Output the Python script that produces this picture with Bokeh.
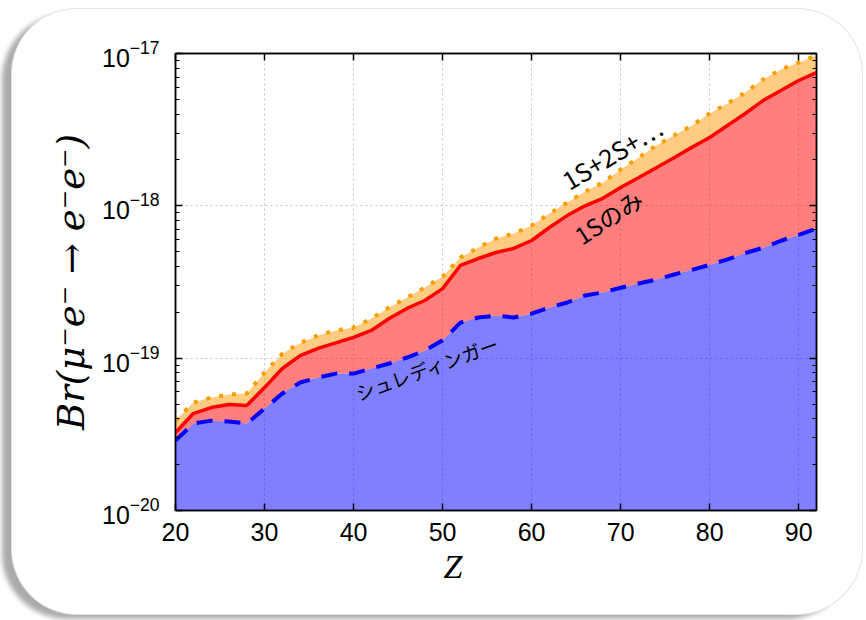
from bokeh.plotting import figure
from bokeh.models import LinearAxis, LogAxis, FixedTicker, Range1d, Title, ColumnDataSource
from bokeh.core.properties import value
from bokeh.embed import file_html
from bokeh.resources import INLINE

# ---- data ----
Z = [20, 22, 24, 26, 28, 30, 32, 34, 36, 38, 40, 42, 44, 46, 48, 50, 52, 54, 56, 58,
     60, 62, 64, 66, 68, 70, 72, 74, 76, 78, 80, 82, 84, 86, 88, 90, 92]

schrodinger = [2.88e-20, 3.72e-20, 3.89e-20, 3.84e-20, 3.72e-20, 4.67e-20, 5.86e-20, 6.92e-20,
               7.46e-20, 7.92e-20, 7.92e-20, 8.55e-20, 9.22e-20, 1.01e-19, 1.12e-19, 1.31e-19,
               1.71e-19, 1.85e-19, 1.90e-19, 1.85e-19, 1.96e-19, 2.15e-19, 2.32e-19, 2.58e-19,
               2.70e-19, 2.90e-19, 3.09e-19, 3.28e-19, 3.54e-19, 3.80e-19, 4.10e-19, 4.45e-19,
               4.90e-19, 5.30e-19, 5.90e-19, 6.45e-19, 7.10e-19]

only_1s = [3.25e-20, 4.33e-20, 4.74e-20, 4.96e-20, 4.89e-20, 6.41e-20, 8.55e-20, 1.04e-19,
           1.16e-19, 1.26e-19, 1.37e-19, 1.52e-19, 1.82e-19, 2.12e-19, 2.39e-19, 2.86e-19,
           4.06e-19, 4.51e-19, 4.94e-19, 5.25e-19, 5.92e-19, 7.21e-19, 8.63e-19, 1.00e-18,
           1.12e-18, 1.32e-18, 1.53e-18, 1.78e-18, 2.07e-18, 2.42e-18, 2.81e-18, 3.37e-18,
           4.04e-18, 4.91e-18, 5.71e-18, 6.65e-18, 7.50e-18]

all_states = [3.89e-20, 5.11e-20, 5.51e-20, 5.77e-20, 5.86e-20, 8.04e-20, 1.07e-19, 1.26e-19,
              1.41e-19, 1.52e-19, 1.59e-19, 1.82e-19, 2.15e-19, 2.50e-19, 2.91e-19, 3.43e-19,
              4.58e-19, 5.32e-19, 6.10e-19, 6.58e-19, 7.43e-19, 8.89e-19, 1.05e-18, 1.24e-18,
              1.42e-18, 1.73e-18, 2.07e-18, 2.49e-18, 2.90e-18, 3.37e-18, 4.04e-18, 4.70e-18,
              5.55e-18, 6.75e-18, 7.85e-18, 8.73e-18, 9.70e-18]

x_ticks = [20, 30, 40, 50, 60, 70, 80, 90]
y_ticks = [1e-20, 1e-19, 1e-18, 1e-17]
y_minor = [m * d for d in (1e-20, 1e-19, 1e-18) for m in (2, 3, 4, 5, 6, 7, 8, 9)]

curve_labels = ["1S+2S+\u22ef", "1S\u306e\u307f", "\u30b7\u30e5\u30ec\u30c7\u30a3\u30f3\u30ac\u30fc"]
label_z = [69.0, 68.6, 48.3]
label_br = [2.22e-18, 8.5e-19, 8.67e-20]
label_angle = [31, 33, 20]
label_size = ["25px", "24px", "19px"]

# ---- figure ----
p = figure(width=850, height=605,
           x_range=Range1d(20, 92), y_range=Range1d(1e-20, 1e-17),
           y_axis_type="log", output_backend="svg", toolbar_location=None,
           min_border_left=163, min_border_right=46, min_border_top=44, min_border_bottom=104)
p.border_fill_color = None
p.background_fill_color = "white"
p.outline_line_color = "black"
p.outline_line_width = 1.5
p.styles = {"background-color": "white", "border-radius": "65px",
            "margin-left": "12px", "margin-top": "9px",
            "box-shadow": "0 0 0 1px #e4e4e4, -10px 5px 5px rgba(0,0,0,0.33)"}

# fills
p.varea(x=Z, y1=1e-20, y2=schrodinger, fill_color="#0000ff", fill_alpha=0.5)
p.varea(x=Z, y1=schrodinger, y2=only_1s, fill_color="#ff0000", fill_alpha=0.5)
p.varea(x=Z, y1=only_1s, y2=all_states, fill_color="#ffa31a", fill_alpha=0.55)

# lines
p.line(Z, schrodinger, line_color="#0000ff", line_width=4, line_dash="16 12")
p.line(Z, only_1s, line_color="#ff0000", line_width=3.5)
p.line(Z, all_states, line_color="#f5a000", line_width=4, line_dash="4 9")

# labels along curves
lab = ColumnDataSource(dict(x=label_z, y=label_br, text=curve_labels,
                            angle=label_angle, size=label_size))
p.text(x="x", y="y", text="text", angle="angle", angle_units="deg", source=lab,
       text_font=value("Noto Sans CJK JP"), text_font_size="size",
       text_align="center", text_baseline="middle", text_color="black")

# grid
p.xgrid.ticker = FixedTicker(ticks=x_ticks)
p.ygrid.ticker = FixedTicker(ticks=y_ticks)
for g in (p.xgrid[0], p.ygrid[0]):
    g.grid_line_color = "#c4c4c4"
    g.grid_line_dash = "2 3"
    g.grid_line_width = 1

def style_axis(ax):
    ax.axis_line_color = "black"
    ax.axis_line_width = 1.5
    ax.major_tick_line_color = "black"
    ax.major_tick_line_width = 1.5
    ax.minor_tick_line_color = "black"
    ax.minor_tick_line_width = 1.2
    ax.major_tick_in = 7
    ax.major_tick_out = 0
    ax.minor_tick_in = 4
    ax.minor_tick_out = 0
    ax.major_label_text_font = "Liberation Sans"
    ax.major_label_text_font_size = "25px"
    ax.major_label_text_color = "black"

xa = p.xaxis[0]
ya = p.yaxis[0]
xa.ticker = FixedTicker(ticks=x_ticks)
ya.ticker = FixedTicker(ticks=y_ticks, minor_ticks=y_minor)
style_axis(xa)
style_axis(ya)
xa.major_label_standoff = 12
ya.major_label_standoff = 16

ya.axis_label = "Br(\u03bc\u207be\u207b \u2192 e\u207be\u207b)"
ya.axis_label_text_font = "DejaVu Serif"
ya.axis_label_text_font_style = "italic"
ya.axis_label_text_font_size = "37px"
ya.axis_label_standoff = 6
ya.axis_label_text_color = "black"

top = LinearAxis(ticker=FixedTicker(ticks=x_ticks))
right = LogAxis(ticker=FixedTicker(ticks=y_ticks, minor_ticks=y_minor))
for ax in (top, right):
    style_axis(ax)
    ax.major_label_text_color = None
p.add_layout(top, "above")
p.add_layout(right, "right")

zt = Title(text="Z", align="left", offset=268, text_font="Liberation Serif",
           text_font_style="italic", text_font_size="34px", text_color="black",
           standoff=4)
p.add_layout(zt, "below")

open("out.html", "w").write(file_html(p, INLINE))
